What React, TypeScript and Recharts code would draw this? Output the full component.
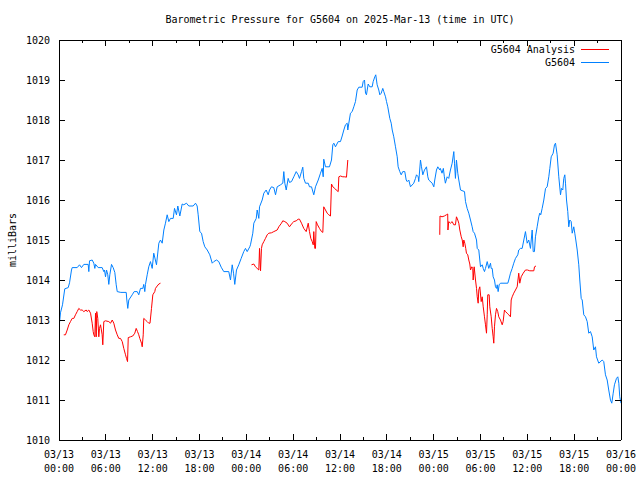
import React from "react";
import { LineChart, Line, XAxis, YAxis } from "recharts";

// tick labels
const dayLabels = ["03/13", "03/14", "03/15", "03/16"];
const clockLabels = ["00:00", "06:00", "12:00", "18:00"];
const hourTicks = [0, 3, 6, 9, 12, 15, 18, 21, 24, 27, 30, 33, 36, 39, 42, 45, 48, 51, 54, 57, 60, 63, 66, 69, 72];
const pressureTicks = [1010, 1011, 1012, 1013, 1014, 1015, 1016, 1017, 1018, 1019, 1020];

// [hours since 03/13 00:00 UTC, millibars]
const stationReadings: [number, number][] = [
  [0, 1012.8], [0.19, 1013.18], [0.45, 1013.38], [0.74, 1013.78], [1.18, 1013.81], [1.35, 1013.93],
  [1.6, 1014.25], [1.69, 1014.31], [2.33, 1014.31], [2.63, 1014.38], [2.88, 1014.31], [3.18, 1014.39],
  [3.74, 1014.39], [3.82, 1014.21], [3.91, 1014.48], [4.25, 1014.5], [4.46, 1014.42], [4.59, 1014.29],
  [4.68, 1014.39], [5.02, 1014.31], [5.53, 1014.31], [5.74, 1014.21], [5.83, 1014.25], [5.96, 1014.08],
  [6.09, 1014.25], [6.25, 1014.13], [6.38, 1013.89], [6.51, 1014.13], [6.73, 1014.39], [6.94, 1014.31],
  [7.15, 1014.19], [7.33, 1013.88], [7.46, 1013.71], [7.92, 1013.69], [8.61, 1013.69], [8.69, 1013.5],
  [8.81, 1013.29], [8.94, 1013.5], [9.38, 1013.63], [9.63, 1013.71], [10.02, 1013.71], [10.22, 1013.63],
  [10.44, 1013.79], [10.74, 1013.79], [10.86, 1013.89], [10.99, 1013.71], [11.08, 1013.89], [11.3, 1014.13],
  [11.5, 1014.33], [11.72, 1014.46], [11.94, 1014.29], [12.14, 1014.67], [12.49, 1014.38], [12.79, 1014.92],
  [13, 1015], [13.22, 1014.92], [13.43, 1015.25], [13.64, 1015.42], [13.86, 1015.63], [14.07, 1015.46],
  [14.28, 1015.54], [14.63, 1015.54], [14.8, 1015.79], [15.05, 1015.63], [15.22, 1015.85], [15.48, 1015.6],
  [15.78, 1015.9], [15.99, 1015.88], [16.33, 1015.92], [16.63, 1015.85], [17.19, 1015.85], [17.49, 1015.92],
  [17.7, 1015.85], [17.83, 1015.63], [18.04, 1015.21], [18.26, 1015.17], [18.47, 1014.96], [18.68, 1014.83],
  [18.99, 1014.75], [19.32, 1014.63], [19.63, 1014.42], [19.83, 1014.46], [20.18, 1014.5], [20.47, 1014.46],
  [20.78, 1014.32], [21.11, 1014.21], [21.75, 1014.21], [21.97, 1014], [22.19, 1014.38], [22.36, 1014.17],
  [22.52, 1013.89], [22.74, 1014.25], [23.03, 1014.38], [23.34, 1014.54], [23.67, 1014.71], [23.89, 1014.79],
  [24.11, 1014.71], [24.44, 1014.83], [24.53, 1014.88], [24.83, 1015.17], [24.96, 1015.42], [25.27, 1015.54],
  [25.39, 1015.75], [25.6, 1015.54], [25.69, 1015.83], [26.03, 1016], [26.24, 1016.17], [26.54, 1016.25],
  [26.8, 1016.13], [26.97, 1016.25], [27.22, 1016.33], [27.52, 1016.31], [27.74, 1016.13], [27.95, 1016.33],
  [28.38, 1016.38], [28.67, 1016.42], [28.8, 1016.71], [28.93, 1016.42], [29.11, 1016.25], [29.36, 1016.54],
  [29.53, 1016.44], [29.79, 1016.46], [30.08, 1016.58], [30.39, 1016.71], [30.64, 1016.63], [30.81, 1016.54],
  [31.07, 1016.71], [31.23, 1016.82], [31.36, 1016.54], [31.58, 1016.42], [31.93, 1016.42], [32.09, 1016.33],
  [32.35, 1016.33], [32.64, 1016.13], [32.86, 1016.33], [33.21, 1016.5], [33.5, 1016.67], [33.72, 1016.79],
  [33.85, 1016.58], [33.92, 1017.02], [34.14, 1016.83], [34.65, 1016.83], [34.91, 1017], [35.08, 1017.38],
  [35.21, 1017.42], [35.42, 1017.33], [35.77, 1017.46], [36.06, 1017.46], [36.28, 1017.6], [36.49, 1017.75],
  [36.7, 1017.88], [36.92, 1017.92], [37, 1017.75], [37.13, 1017.92], [37.34, 1018.17], [37.56, 1018.21],
  [37.77, 1018.33], [37.98, 1018.46], [38.2, 1018.75], [38.41, 1018.82], [38.84, 1018.82], [38.97, 1018.96],
  [39.14, 1019], [39.27, 1018.67], [39.39, 1018.63], [39.61, 1018.9], [39.82, 1018.83], [40.12, 1018.83],
  [40.25, 1018.96], [40.46, 1019.08], [40.58, 1019.13], [40.76, 1018.88], [40.97, 1018.75], [41.1, 1018.63],
  [41.28, 1018.67], [41.48, 1018.79], [41.61, 1018.71], [41.83, 1018.58], [41.96, 1018.46], [42.12, 1018.33],
  [42.38, 1018.04], [42.56, 1017.92], [42.69, 1017.75], [42.89, 1017.58], [43.11, 1017.33], [43.33, 1017.08],
  [43.45, 1016.83], [43.66, 1016.71], [43.84, 1016.63], [44.04, 1016.71], [44.3, 1016.71], [44.48, 1016.5],
  [44.61, 1016.46], [44.81, 1016.5], [45.03, 1016.33], [45.45, 1016.42], [45.67, 1016.54], [45.8, 1016.63],
  [46.02, 1016.58], [46.09, 1016.46], [46.31, 1017], [46.44, 1016.83], [46.61, 1016.63], [46.82, 1016.75],
  [47.08, 1016.83], [47.25, 1016.58], [47.37, 1016.5], [47.81, 1016.42], [48.02, 1016.33], [48.14, 1016.5],
  [48.36, 1016.75], [48.53, 1016.83], [48.78, 1016.75], [48.85, 1016.79], [49.07, 1016.67], [49.24, 1016.79],
  [49.37, 1016.58], [49.5, 1016.42], [49.73, 1016.58], [49.93, 1016.54], [50.15, 1016.75], [50.37, 1016.92],
  [50.58, 1017.21], [50.67, 1016.92], [50.79, 1016.54], [50.92, 1017], [51.09, 1016.67], [51.22, 1016.5],
  [51.44, 1016.25], [51.95, 1016.21], [52.08, 1015.96], [52.29, 1015.79], [52.5, 1015.67], [52.72, 1015.5],
  [52.93, 1015.33], [53.06, 1015.21], [53.23, 1015.17], [53.49, 1015], [53.58, 1014.79], [53.78, 1014.75],
  [53.91, 1014.5], [54, 1014.33], [54.22, 1014.38], [54.35, 1014.29], [54.51, 1014.21], [54.64, 1014.29],
  [54.86, 1014.46], [55.06, 1014.29], [55.28, 1014.42], [55.37, 1014.29], [55.5, 1014.29], [55.62, 1014.08],
  [55.79, 1014], [55.92, 1013.83], [56.05, 1013.79], [56.14, 1013.88], [56.26, 1013.71], [56.39, 1013.88],
  [56.56, 1013.92], [57.5, 1013.92], [57.62, 1014], [57.84, 1014.17], [58.06, 1014.29], [58.26, 1014.42],
  [58.48, 1014.54], [58.78, 1014.63], [58.9, 1014.75], [59.12, 1014.79], [59.34, 1014.79], [59.55, 1015],
  [59.76, 1015.21], [59.98, 1014.92], [60.18, 1015], [60.4, 1014.79], [60.62, 1015.25], [60.75, 1014.71],
  [60.91, 1014.71], [61.04, 1015.08], [61.26, 1015.33], [61.47, 1015.58], [61.59, 1015.67], [61.72, 1015.63],
  [61.9, 1015.79], [62.11, 1016], [62.33, 1016.29], [62.54, 1016.33], [62.75, 1016.58], [62.88, 1016.79],
  [63.06, 1017.08], [63.31, 1017.17], [63.48, 1017.38], [63.61, 1017.42], [63.82, 1017.13], [64.03, 1016.58],
  [64.25, 1016.13], [64.37, 1016.29], [64.54, 1016.25], [64.67, 1016.54], [64.8, 1016.63], [64.89, 1016.42],
  [65.02, 1016], [65.18, 1015.71], [65.31, 1015.33], [65.44, 1015.5], [65.62, 1015.46], [65.75, 1015.17],
  [65.95, 1015.33], [66.08, 1015.17], [66.21, 1015], [66.39, 1014.75], [66.59, 1014.38], [66.72, 1014],
  [66.9, 1013.54], [67.03, 1013.5], [67.23, 1013.13], [67.45, 1013.08], [67.67, 1012.96], [67.87, 1012.67],
  [68.09, 1012.71], [68.31, 1012.58], [68.51, 1012.25], [68.73, 1012.33], [68.86, 1012.08], [69.15, 1011.92],
  [69.59, 1012], [69.79, 1011.96], [70.01, 1011.63], [70.23, 1011.5], [70.43, 1011.25], [70.65, 1011],
  [70.82, 1010.92], [71, 1011.17], [71.16, 1011.38], [71.42, 1011.54], [71.59, 1011.58], [71.72, 1011.42],
  [71.84, 1011.08], [72, 1010.92],
];

// analysis runs, drawn with gaps between them
const analysisRun1: [number, number][] = [
  [0.61, 1012.63], [0.83, 1012.63], [1.05, 1012.75], [1.26, 1012.88], [1.47, 1012.96], [1.69, 1013.04],
  [1.9, 1013.04], [2.11, 1013.13], [2.33, 1013.21], [2.54, 1013.29], [2.75, 1013.25], [2.97, 1013.25],
  [3.18, 1013.21], [3.48, 1013.25], [3.61, 1013.21], [3.82, 1013.25], [4.04, 1013.17], [4.25, 1012.92],
  [4.38, 1012.71], [4.46, 1012.63], [4.59, 1012.58], [4.68, 1013.17], [4.77, 1012.58], [4.84, 1013.21],
  [4.97, 1013.04], [5.1, 1012.58], [5.19, 1012.79], [5.32, 1012.88], [5.53, 1012.63], [5.61, 1012.38],
  [5.74, 1012.96], [5.96, 1012.98], [6.38, 1012.96], [6.6, 1012.92], [6.82, 1013], [7.02, 1012.92],
  [7.24, 1012.75], [7.46, 1012.63], [7.66, 1012.54], [7.88, 1012.54], [8.1, 1012.46], [8.3, 1012.29],
  [8.52, 1012.13], [8.65, 1012.04], [8.78, 1011.96], [8.87, 1012.56], [9.16, 1012.58], [9.45, 1012.6],
  [9.71, 1012.67], [9.89, 1012.79], [10.06, 1012.71], [10.22, 1012.63], [10.35, 1012.54], [10.57, 1012.42],
  [10.66, 1012.33], [10.79, 1012.63], [10.86, 1013.04], [11.08, 1013], [11.3, 1012.96], [11.5, 1012.92],
  [11.66, 1012.92], [11.85, 1013.29], [12.02, 1013.63], [12.27, 1013.71], [12.36, 1013.79], [12.58, 1013.85],
  [12.79, 1013.9], [13, 1013.92],
];
const analysisRun2: [number, number][] = [
  [24.66, 1014.38], [24.96, 1014.4], [25.17, 1014.33], [25.39, 1014.29], [25.6, 1014.25], [25.69, 1014.79],
  [25.82, 1014.23], [25.94, 1014.79], [26.03, 1014.88], [26.24, 1014.96], [26.45, 1015.04], [26.67, 1015.13],
  [26.88, 1015.17], [27.22, 1015.18], [27.52, 1015.21], [27.95, 1015.25], [28.16, 1015.33], [28.5, 1015.42],
  [28.67, 1015.48], [28.93, 1015.46], [29.23, 1015.42], [29.53, 1015.33], [29.87, 1015.42], [30.08, 1015.46],
  [30.39, 1015.48], [30.64, 1015.52], [30.81, 1015.52], [31.07, 1015.42], [31.36, 1015.29], [31.67, 1015.21],
  [31.93, 1015.42], [32.09, 1015.21], [32.26, 1015.04], [32.44, 1014.96], [32.57, 1014.88], [32.64, 1015.21],
  [32.77, 1014.79], [32.86, 1014.79], [32.95, 1015.46], [33.12, 1015.38], [33.37, 1015.29], [33.63, 1015.21],
  [33.8, 1015.19], [33.92, 1015.83], [34.14, 1015.75], [34.36, 1015.67], [34.56, 1015.63], [34.78, 1015.6],
  [34.91, 1016.4], [35.08, 1016.33], [35.33, 1016.29], [35.51, 1016.25], [35.77, 1016.21], [35.85, 1016.58],
  [36.06, 1016.6], [36.36, 1016.58], [36.61, 1016.58], [36.83, 1016.57], [37, 1017],
];
const analysisRun3: [number, number][] = [
  [48.78, 1015.13], [48.81, 1015.6], [49.07, 1015.58], [49.37, 1015.6], [49.63, 1015.63], [49.8, 1015.65],
  [49.83, 1015.25], [49.93, 1015.46], [50.15, 1015.42], [50.37, 1015.46], [50.58, 1015.38], [50.79, 1015.38],
  [50.92, 1015.58], [51.09, 1015.5], [51.22, 1015.42], [51.35, 1015.25], [51.53, 1015.08], [51.66, 1015],
  [51.78, 1014.83], [51.86, 1015], [51.99, 1014.92], [52.11, 1014.79], [52.2, 1014.67], [52.37, 1014.63],
  [52.5, 1014.5], [52.63, 1014.4], [52.72, 1014.25], [52.89, 1014.33], [53.01, 1014.29], [53.06, 1014],
  [53.19, 1014.33], [53.36, 1014], [53.49, 1013.79], [53.58, 1013.58], [53.7, 1013.42], [53.78, 1013.75],
  [53.91, 1013.83], [54.09, 1013.46], [54.22, 1013.58], [54.35, 1013.33], [54.51, 1013.08], [54.64, 1012.88],
  [54.77, 1012.67], [54.86, 1013.13], [54.93, 1013.63], [55.11, 1013.63], [55.19, 1013.33], [55.37, 1013.08],
  [55.5, 1012.79], [55.62, 1012.58], [55.7, 1012.42], [55.79, 1012.83], [55.92, 1013.13], [56.05, 1013.29],
  [56.21, 1013.21], [56.34, 1013.08], [56.56, 1013], [56.78, 1012.88], [56.9, 1012.96], [57.07, 1013.25],
  [57.2, 1013.21], [57.42, 1013.17], [57.62, 1013.13], [57.84, 1013.08], [57.93, 1013.5], [58.06, 1013.58],
  [58.26, 1013.67], [58.48, 1013.75], [58.7, 1013.83], [58.9, 1014.17], [59.03, 1013.92], [59.21, 1014.08],
  [59.47, 1014.17], [59.76, 1014.25], [60.02, 1014.25], [60.31, 1014.23], [60.83, 1014.23], [60.92, 1014.33],
  [61.11, 1014.35],
];

const seriesNames = ["G5604 Analysis", "G5604"];
const seriesColors = ["#ff0000", "#0080ff"];

const toRows = (pairs: [number, number][]) => pairs.map(([t, v]) => ({ t, v }));
const stationData = toRows(stationReadings);
const analysisData = [analysisRun1, analysisRun2, analysisRun3].flatMap((run, i) =>
  i === 0 ? toRows(run) : [{ t: run[0][0] - 0.01, v: null as number | null }, ...toRows(run)]
);

const FONT = "'DejaVu Sans Mono', 'Liberation Mono', monospace";

function BottomTick(props: any) {
  const { x, y, payload } = props;
  const h = payload.value;
  const major = h % 6 === 0;
  return (
    <g>
      <line x1={x} x2={x} y1={y} y2={y - (major ? 6 : 3)} stroke="#000" shapeRendering="crispEdges" />
      {major && (
        <text x={x} y={y} textAnchor="middle" fontFamily={FONT} fontSize={10} fill="#000">
          <tspan x={x} dy={18}>{dayLabels[Math.floor(h / 24)]}</tspan>
          <tspan x={x} dy={14}>{clockLabels[(h % 24) / 6]}</tspan>
        </text>
      )}
    </g>
  );
}

function TopTick(props: any) {
  const { x, y, payload } = props;
  const major = payload.value % 6 === 0;
  return <line x1={x} x2={x} y1={y} y2={y + (major ? 6 : 3)} stroke="#000" shapeRendering="crispEdges" />;
}

function LeftTick(props: any) {
  const { x, y, payload } = props;
  return (
    <g>
      <line x1={x} x2={x + 6} y1={y} y2={y} stroke="#000" shapeRendering="crispEdges" />
      <text x={x - 9} y={y} dy={4} textAnchor="end" fontFamily={FONT} fontSize={10} fill="#000">
        {payload.value}
      </text>
    </g>
  );
}

function RightTick(props: any) {
  const { x, y } = props;
  return <line x1={x} x2={x - 6} y1={y} y2={y} stroke="#000" shapeRendering="crispEdges" />;
}

export default function App() {
  const axisStyle = { stroke: "#000", shapeRendering: "crispEdges" };
  return (
    <div style={{ position: "absolute", left: 0, top: 0, width: 640, height: 480, background: "#fff" }}>
      <LineChart width={640} height={480} margin={{ top: 39, right: 18, bottom: 0, left: 0 }}>
        <XAxis
          xAxisId="bottom"
          dataKey="t"
          type="number"
          domain={[0, 72]}
          ticks={hourTicks}
          interval={0}
          height={40}
          tickSize={0}
          tickMargin={0}
          tickLine={false}
          axisLine={axisStyle}
          tick={(p: any) => <BottomTick {...p} />}
          allowDataOverflow
        />
        <XAxis
          xAxisId="top"
          orientation="top"
          dataKey="t"
          type="number"
          domain={[0, 72]}
          ticks={hourTicks}
          interval={0}
          height={1}
          tickSize={0}
          tickMargin={0}
          tickLine={false}
          axisLine={axisStyle}
          tick={(p: any) => <TopTick {...p} />}
          allowDataOverflow
        />
        <YAxis
          yAxisId="left"
          type="number"
          domain={[1010, 1020]}
          ticks={pressureTicks}
          interval={0}
          width={59}
          tickSize={0}
          tickMargin={0}
          tickLine={false}
          axisLine={axisStyle}
          tick={(p: any) => <LeftTick {...p} />}
          allowDataOverflow
        />
        <YAxis
          yAxisId="right"
          orientation="right"
          type="number"
          domain={[1010, 1020]}
          ticks={pressureTicks}
          interval={0}
          width={1}
          tickSize={0}
          tickMargin={0}
          tickLine={false}
          axisLine={axisStyle}
          tick={(p: any) => <RightTick {...p} />}
          allowDataOverflow
        />
        <Line
          xAxisId="top"
          yAxisId="right"
          data={analysisData}
          dataKey="v"
          name={seriesNames[0]}
          type="linear"
          stroke={seriesColors[0]}
          strokeWidth={1}
          dot={false}
          activeDot={false}
          isAnimationActive={false}
        />
        <Line
          xAxisId="bottom"
          yAxisId="left"
          data={stationData}
          dataKey="v"
          name={seriesNames[1]}
          type="linear"
          stroke={seriesColors[1]}
          strokeWidth={1}
          dot={false}
          activeDot={false}
          isAnimationActive={false}
        />
      </LineChart>
      <svg
        width={640}
        height={480}
        style={{ position: "absolute", left: 0, top: 0, pointerEvents: "none" }}
        fontFamily={FONT}
        fontSize={10}
      >
        <text x={340} y={23} textAnchor="middle" fill="#000">
          Barometric Pressure for G5604 on 2025-Mar-13 (time in UTC)
        </text>
        <text x={16} y={240} textAnchor="middle" fill="#000" transform="rotate(-90 16 240)">
          milliBars
        </text>
        {seriesNames.map((name, i) => (
          <g key={name}>
            <text x={575} y={49 + i * 13} dy={4} textAnchor="end" fill="#000">
              {name}
            </text>
            <line x1={581} x2={609} y1={49 + i * 13} y2={49 + i * 13} stroke={seriesColors[i]} shapeRendering="crispEdges" />
          </g>
        ))}
      </svg>
    </div>
  );
}
